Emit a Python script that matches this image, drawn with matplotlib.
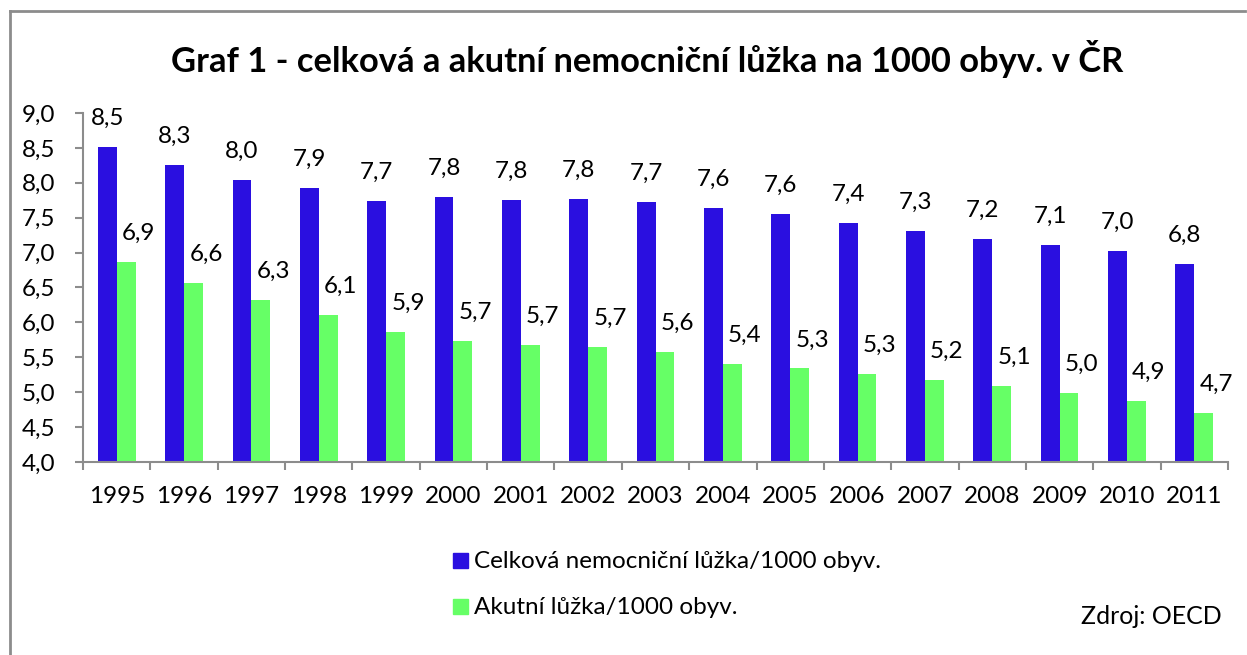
import matplotlib
matplotlib.use("Agg")
import matplotlib.pyplot as plt
from matplotlib.patches import Rectangle
import numpy as np

plt.rcParams['font.family'] = ['Lato', 'DejaVu Sans']

years = ['1995', '1996', '1997', '1998', '1999', '2000', '2001', '2002', '2003',
         '2004', '2005', '2006', '2007', '2008', '2009', '2010', '2011']
celkova = [8.51, 8.26, 8.04, 7.93, 7.74, 7.80, 7.76, 7.77, 7.72,
           7.64, 7.56, 7.42, 7.31, 7.19, 7.11, 7.02, 6.84]
akutni = [6.87, 6.56, 6.32, 6.11, 5.86, 5.73, 5.68, 5.65, 5.58,
          5.40, 5.34, 5.26, 5.17, 5.09, 4.99, 4.87, 4.70]
y_ticks = [4.0, 4.5, 5.0, 5.5, 6.0, 6.5, 7.0, 7.5, 8.0, 8.5, 9.0]

BLUE = '#2a0fe0'
GREEN = '#66ff66'
GRAY = '#8c8c8c'
FS = 17.5

fig = plt.figure(figsize=(12.47, 6.55), dpi=100)
ax = fig.add_axes([83 / 1247, 1 - 462 / 655, (1228 - 83) / 1247, (462 - 113) / 655])

x = np.arange(len(years))
w = 0.28
b1 = ax.bar(x - w / 2, celkova, w, color=BLUE, label='Celková nemocniční lůžka/1000 obyv.')
b2 = ax.bar(x + w / 2, akutni, w, color=GREEN, label='Akutní lůžka/1000 obyv.')

def autolabel(bars, vals, dx=0):
    for rect, v in zip(bars, vals):
        ax.annotate('{:.1f}'.format(v).replace('.', ','),
                    xy=(rect.get_x() + rect.get_width() / 2, rect.get_height()),
                    xytext=(dx, 13), textcoords='offset points',
                    ha='center', va='bottom', fontsize=FS, color='black')

autolabel(b1, celkova)
autolabel(b2, akutni, dx=9)

ax.set_xlim(-0.5, len(years) - 0.5)
ax.set_ylim(4.0, 9.0)
ax.set_yticks(y_ticks)
ax.set_yticklabels(['{:.1f}'.format(t).replace('.', ',') for t in y_ticks], fontsize=FS)
ax.set_xticks(x)
ax.set_xticklabels(years, fontsize=FS)
ax.set_xticks(np.arange(-0.5, len(years), 1), minor=True)
ax.tick_params(axis='x', which='major', length=0, pad=17)
ax.tick_params(axis='x', which='minor', length=6, color=GRAY, width=1.5, direction='out')
ax.tick_params(axis='y', length=6, color=GRAY, width=1.5, direction='out', pad=14)

for s in ['top', 'right']:
    ax.spines[s].set_visible(False)
for s in ['left', 'bottom']:
    ax.spines[s].set_color(GRAY)
    ax.spines[s].set_linewidth(1.5)

fig.text(647 / 1247, 1 - 59 / 655, 'Graf 1 - celková a akutní nemocniční lůžka na 1000 obyv. v ČR',
         ha='center', va='center', fontsize=24.8, fontweight='bold')

# legend drawn as two rows
leg_items = [(BLUE, 'Celková nemocniční lůžka/1000 obyv.', 561),
             (GREEN, 'Akutní lůžka/1000 obyv.', 607)]
for col, txt, ypix in leg_items:
    fig.patches.append(Rectangle((453 / 1247, 1 - (ypix + 7) / 655), 15 / 1247, 15 / 655,
                                 transform=fig.transFigure, color=col))
    fig.text(474 / 1247, 1 - ypix / 655, txt, ha='left', va='center', fontsize=FS)

fig.text(1222 / 1247, 1 - 616 / 655, 'Zdroj: OECD', ha='right', va='center', fontsize=18)

# frame (top and left visible)
fig.add_artist(plt.Line2D([10 / 1247, 10 / 1247], [0, 1 - 11 / 655], transform=fig.transFigure,
                          color=GRAY, lw=2))
fig.add_artist(plt.Line2D([10 / 1247, 1245 / 1247], [1 - 11 / 655, 1 - 11 / 655], transform=fig.transFigure,
                          color=GRAY, lw=2))

fig.savefig('out.png', dpi=100)
